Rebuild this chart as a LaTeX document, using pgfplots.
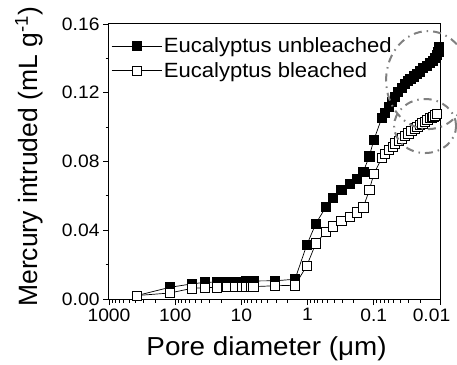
\documentclass[border=0pt]{standalone}
\usepackage{fontspec}
\setmainfont{Liberation Sans}[FakeStretch=1.07]
\newfontfamily\plainfont{Liberation Sans}
\usepackage{pgfplots}
\usepackage{pgfplotstable}
\pgfplotsset{compat=1.18}

\pgfplotstableread{
x y
380 0.0020
120 0.0068
56 0.0088
35.5 0.0097
23.6 0.0099
16.7 0.0100
12.5 0.0101
9.9 0.0102
8.4 0.0103
7.3 0.0104
6.6 0.0105
3.1 0.0106
1.55 0.0115
1.03 0.0314
0.75 0.0439
0.53 0.0535
0.42 0.0589
0.31 0.0634
0.23 0.0670
0.18 0.0697
0.144 0.0741
0.117 0.0830
0.100 0.0925
0.076 0.1052
0.068 0.1085
0.060 0.1119
0.054 0.1148
0.048 0.1177
0.043 0.1205
0.038 0.1230
0.034 0.1252
0.031 0.1268
0.028 0.1282
0.025 0.1295
0.0225 0.1308
0.020 0.1325
0.018 0.1343
0.016 0.1358
0.0142 0.1372
0.013 0.1385
0.0119 0.1401
0.0112 0.1420
0.0106 0.1440
0.0104 0.1468
}\unbleached

\pgfplotstableread{
x y
380 0.0020
120 0.0035
56 0.0062
35.5 0.0066
23.6 0.0068
16.7 0.0069
12.5 0.0069
9.9 0.0070
8.4 0.0071
7.3 0.0071
6.6 0.0072
3.1 0.0077
1.55 0.0080
1.03 0.0193
0.75 0.0324
0.53 0.0392
0.42 0.0423
0.31 0.0455
0.23 0.0479
0.18 0.0504
0.144 0.0533
0.117 0.0634
0.100 0.0727
0.076 0.0819
0.068 0.0843
0.060 0.0867
0.052 0.0886
0.048 0.0906
0.042 0.0920
0.038 0.0935
0.034 0.0950
0.030 0.0964
0.027 0.0978
0.024 0.0993
0.022 0.1003
0.020 0.1013
0.0185 0.1022
0.017 0.1032
0.0155 0.1042
0.0142 0.1052
0.0134 0.1056
0.0126 0.1061
0.0118 0.1068
0.0112 0.1077
}\bleached

\begin{document}
\begin{tikzpicture}
\useasboundingbox (-109pt,-65pt) rectangle (348pt,299pt);
\begin{axis}[
  at={(0,0)}, anchor=south west,
  scale only axis, width=331pt, height=275pt,
  xmode=log, x dir=reverse,
  xmin=0.01, xmax=1000,
  ymin=0, ymax=0.16,
  xtick={0.01,0.1,1,10,100,1000},
  xticklabels={{\hspace{-17pt}0.01},0.1,1,10,100,1000},
  ytick={0,0.04,0.08,0.12,0.16},
  yticklabels={0.00,0.04,0.08,0.12,0.16},
  minor ytick={0.02,0.06,0.10,0.14},
  tick align=outside, xtick pos=bottom, ytick pos=left,
  major tick length=6pt, minor tick length=3.5pt,
  every tick/.style={black, line width=0.8pt},
  axis line style={line width=1pt},
  /pgf/number format/assume math mode=true,
  tick label style={font=\fontsize{18}{20}\selectfont},
  xlabel={Pore diameter (μm)},
  ylabel={\plainfont Mercury intruded (mL g\textsuperscript{-1})},
  xlabel style={font=\fontsize{26}{30}\selectfont, at={(axis description cs:0.476,0)}, anchor=base, yshift=-56pt},
  ylabel style={font=\fontsize{26.5}{30}\selectfont, at={(axis description cs:-0.2175,0.517)}, anchor=base},
  legend cell align=left,
  legend style={at={(axis description cs:0.006,0.957)}, anchor=north west, draw=none, fill=none,
    font=\fontsize{20.6}{25}\selectfont, inner sep=0pt, row sep=4pt,
    nodes={font=\fontsize{20.6}{25}\selectfont}},
  legend image code/.code={\draw[mark repeat=2,mark phase=2,#1] plot coordinates {(0pt,0pt) (25pt,0pt) (50pt,0pt)};},
]
\addplot[black, line width=0.7pt, mark=square*, mark size=4.6pt, mark options={fill=black, draw=black, line width=0.7pt}] table[x=x,y=y] {\unbleached};
\addlegendentry{Eucalyptus unbleached}
\addplot[black, line width=0.7pt, mark=square*, mark size=4.6pt, mark options={fill=white, draw=black, line width=0.7pt}] table[x=x,y=y] {\bleached};
\addlegendentry{Eucalyptus bleached}
\coordinate (e1) at (rel axis cs:0.964,0.796);
\coordinate (e2) at (rel axis cs:0.955,0.629);
\end{axis}
\draw[gray, line width=2pt, dash pattern=on 8pt off 5pt on 1.5pt off 5pt] (e1) ellipse [x radius=42pt, y radius=49pt];
\draw[gray, line width=2pt, dash pattern=on 8pt off 5pt on 1.5pt off 5pt] (e2) ellipse [x radius=31pt, y radius=27pt];
\end{tikzpicture}
\end{document}
